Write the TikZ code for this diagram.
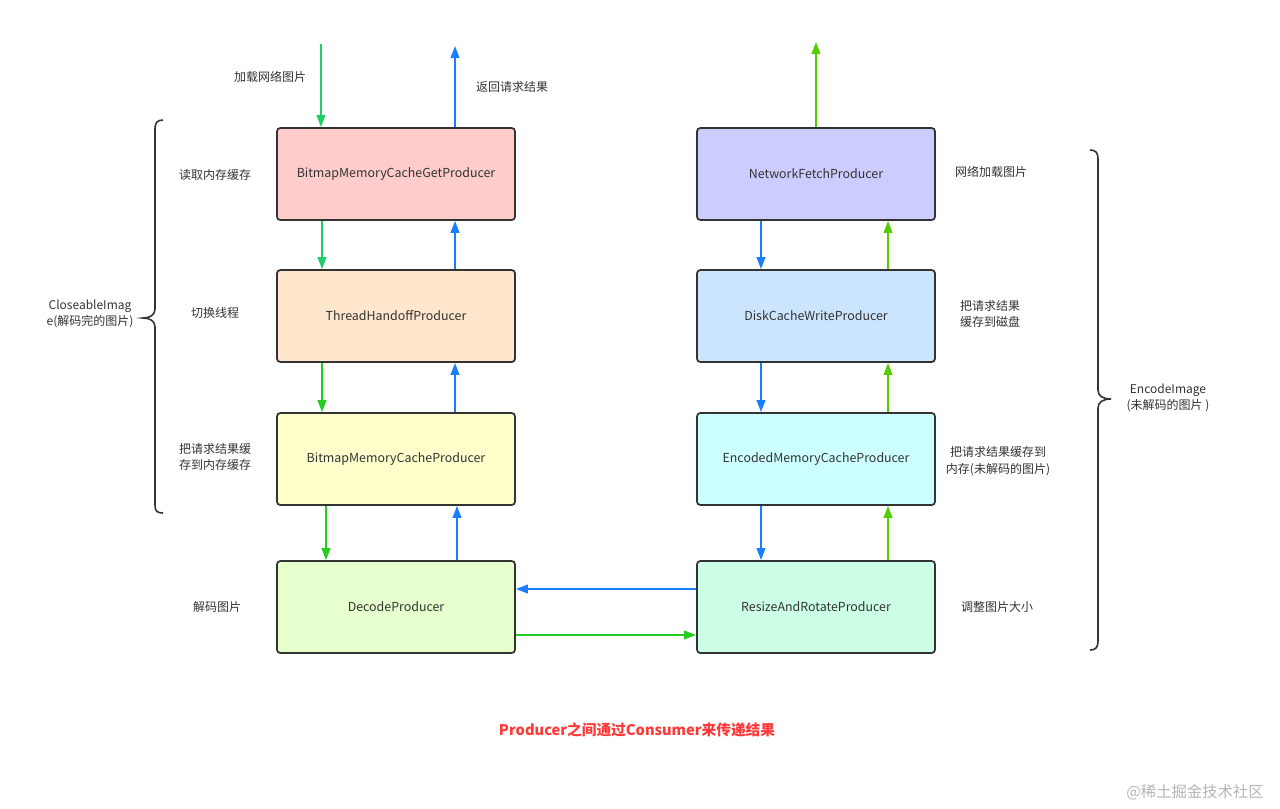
\documentclass[tikz,border=0pt]{standalone}
\usepackage{fontspec}
\setmainfont{Noto Sans CJK SC}
\usetikzlibrary{arrows.meta}
\definecolor{boxline}{HTML}{333333}
\definecolor{txt}{HTML}{333333}
\definecolor{gA}{HTML}{22CC66}
\definecolor{gB}{HTML}{22CC22}
\definecolor{gC}{HTML}{55CC00}
\definecolor{bA}{HTML}{1A7FFF}
\definecolor{redt}{HTML}{FF3838}
\tikzset{
  prod/.style={draw=boxline, line width=1.3pt, rounded corners=2.5pt,
    minimum width=178.5pt, minimum height=69pt, inner sep=0pt,
    text=txt, font=\fontsize{9.3}{11}\selectfont},
  lbl/.style={text=txt, font=\fontsize{9}{12.5}\selectfont, align=center, inner sep=0pt},
  arr/.style={line width=1.3pt, -{Triangle[width=6.5pt,length=9pt]}},
  brace/.style={draw=boxline, line width=1.2pt},
}
\begin{document}
\begin{tikzpicture}[x=0.75pt,y=-0.75pt]
\useasboundingbox (0,0) rectangle (1280,808);
% boxes
\node[prod, fill={rgb,255:red,255;green,204;blue,204}] (bmcg) at (396,174) {BitmapMemoryCacheGetProducer};
\node[prod, fill={rgb,255:red,255;green,230;blue,204}] (tho) at (396,316) {ThreadHandoffProducer};
\node[prod, fill={rgb,255:red,255;green,255;blue,204}] (bmc) at (396,459) {BitmapMemoryCacheProducer};
\node[prod, fill={rgb,255:red,230;green,255;blue,204}] (dec) at (396,607) {DecodeProducer};
\node[prod, fill={rgb,255:red,204;green,204;blue,255}] (nf) at (816,174) {NetworkFetchProducer};
\node[prod, fill={rgb,255:red,204;green,229;blue,255}] (dcw) at (816,316) {DiskCacheWriteProducer};
\node[prod, fill={rgb,255:red,204;green,255;blue,255}] (emc) at (816,459) {EncodedMemoryCacheProducer};
\node[prod, fill={rgb,255:red,204;green,255;blue,230}] (rar) at (816,607) {ResizeAndRotateProducer};
% free ends
\coordinate (inTop) at (321,44);
\coordinate (outTop) at (455,46);
\coordinate (nfTop) at (816,42);
% left column arrows
\draw[arr, gA] (inTop) -- (bmcg.north -| inTop);
\draw[arr, bA] (bmcg.north -| outTop) -- (outTop);
\draw[arr, gA] (bmcg.south -| 322,0) -- (tho.north -| 322,0);
\draw[arr, bA] (tho.north -| 455,0) -- (bmcg.south -| 455,0);
\draw[arr, gB] (tho.south -| 322,0) -- (bmc.north -| 322,0);
\draw[arr, bA] (bmc.north -| 455,0) -- (tho.south -| 455,0);
\draw[arr, gB] (bmc.south -| 326,0) -- (dec.north -| 326,0);
\draw[arr, bA] (dec.north -| 457,0) -- (bmc.south -| 457,0);
% right column arrows
\draw[arr, gC] (nf.north) -- (nfTop);
\draw[arr, bA] (nf.south -| 761,0) -- (dcw.north -| 761,0);
\draw[arr, gC] (dcw.north -| 888,0) -- (nf.south -| 888,0);
\draw[arr, bA] (dcw.south -| 761,0) -- (emc.north -| 761,0);
\draw[arr, gC] (emc.north -| 888,0) -- (dcw.south -| 888,0);
\draw[arr, bA] (emc.south -| 761,0) -- (rar.north -| 761,0);
\draw[arr, gC] (rar.north -| 888,0) -- (emc.south -| 888,0);
% horizontal
\draw[arr, bA] (rar.west |- 0,589) -- (dec.east |- 0,589);
\draw[arr, gB] (dec.east |- 0,635) -- (rar.west |- 0,635);
% labels
\node[lbl] (l1) at (270,77) {加载网络图片};
\node[lbl] (l2) at (512,87) {返回请求结果};
\node[lbl] (l3) at (215,175) {读取内存缓存};
\node[lbl] (l4) at (215,313) {切换线程};
\node[lbl] (l5) at (215,457) {把请求结果缓\\存到内存缓存};
\node[lbl] (l6) at (217,607) {解码图片};
\node[lbl] (l7) at (90,314) {CloseableImag\\e(解码完的图片)};
\node[lbl] (r1) at (991,172) {网络加载图片};
\node[lbl] (r2) at (990,314) {把请求结果\\缓存到磁盘};
\node[lbl] (r3) at (998,461) {把请求结果缓存到\\内存(未解码的图片)};
\node[lbl] (r4) at (997,607) {调整图片大小};
\node[lbl] (r5) at (1168,398) {EncodeImage\\(未解码的图片 )};
% braces
\draw[brace] (163,120) .. controls (157,120) and (155,123) .. (155,129)
  -- (155,309) .. controls (155,315) and (150,318) .. (143,318)
  .. controls (150,318) and (155,321) .. (155,327)
  -- (155,505) .. controls (155,511) and (157,513) .. (163,513);
\draw[brace] (1090,150) .. controls (1096,150) and (1098,153) .. (1098,159)
  -- (1098,390) .. controls (1098,396) and (1103,399) .. (1111,399)
  .. controls (1103,399) and (1098,402) .. (1098,408)
  -- (1098,641) .. controls (1098,647) and (1096,650) .. (1090,650);
% title
\node[text=redt, font=\fontsize{11}{13}\selectfont\bfseries, inner sep=0pt] (title) at (637,730) {Producer之间通过Consumer来传递结果};
\node[text={rgb,255:red,180;green,180;blue,180}, font=\fontsize{11.5}{13}\selectfont, inner sep=0pt] (wm) at (1195,792) {@稀土掘金技术社区};
\end{tikzpicture}
\end{document}
